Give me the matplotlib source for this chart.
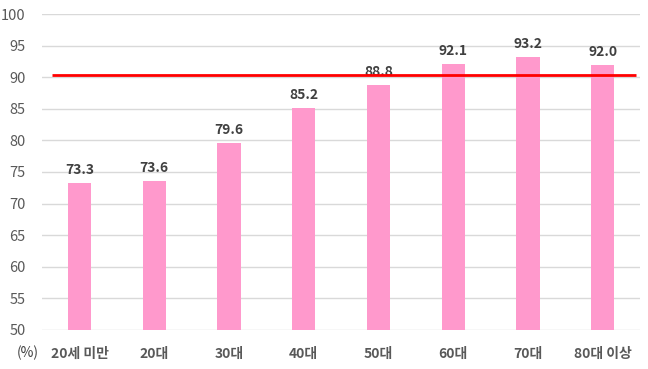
import matplotlib.pyplot as plt

plt.rcParams['font.family'] = ['Noto Sans CJK KR', 'DejaVu Sans']

categories = ['20세 미만', '20대', '30대', '40대', '50대', '60대', '70대', '80대 이상']
values = [73.3, 73.6, 79.6, 85.2, 88.8, 92.1, 93.2, 92.0]
reference = 90.4

fig = plt.figure(figsize=(6.48, 3.69), dpi=100)
ax = fig.add_axes([0.065, 0.106, 0.923, 0.856])

x = range(len(categories))
ax.bar(x, values, width=0.31, color='#FF99CC', zorder=2)
for i, v in zip(x, values):
    ax.text(i, v + 0.9, f'{v:.1f}', ha='center', va='bottom', fontsize=10,
            fontweight='bold', color='#404040')

ax.hlines(reference, -0.37, 7.45, color='#FF0000', linewidth=2, zorder=3)

ax.set_xlim(-0.5, 7.5)
ax.set_ylim(50, 100)
ax.set_yticks(range(50, 101, 5))
ax.set_xticks(list(x))
ax.set_xticklabels(categories, fontsize=10, fontweight='bold', color='#595959')
ax.tick_params(axis='y', labelsize=10.5, colors='#595959', length=0, pad=12)
ax.tick_params(axis='x', length=0, pad=12)
ax.grid(axis='y', color='#D9D9D9', linewidth=1, zorder=0)
ax.set_axisbelow(True)
for s in ax.spines.values():
    s.set_visible(False)

fig.text(28 / 648, 1 - 353 / 369, '(%)', ha='center', va='center', fontsize=10,
         color='#404040')

fig.savefig('out.png', dpi=100)
